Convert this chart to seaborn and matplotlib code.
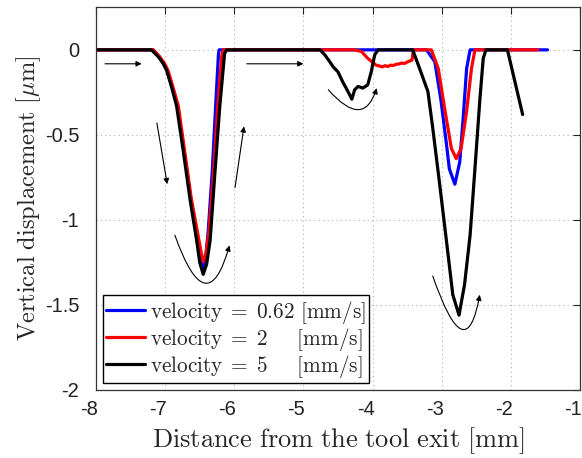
import matplotlib
matplotlib.use("Agg")
import matplotlib.pyplot as plt
import matplotlib.transforms as mtransforms
from matplotlib.patches import FancyArrowPatch
from matplotlib.path import Path
import seaborn as sns
import pandas as pd

# Measured vertical displacement profiles for three tool velocities
x_v062 = [-8.0, -7.18, -7.09, -7.02, -6.97, -6.90, -6.82, -6.73, -6.63, -6.535,
          -6.49, -6.455, -6.42, -6.38, -6.32, -6.27, -6.23, -6.22, -3.22, -3.10,
          -3.01, -2.93, -2.89, -2.81, -2.74, -2.69, -2.64, -2.59, -1.47]
y_v062 = [0.0, 0.0, -0.04, -0.08, -0.12, -0.215, -0.33, -0.59, -0.88, -1.12,
          -1.23, -1.29, -1.24, -1.08, -0.72, -0.33, -0.03, 0.0, 0.0, -0.07,
          -0.30, -0.56, -0.70, -0.79, -0.66, -0.40, -0.11, 0.0, 0.0]

x_v2 = [-8.0, -7.17, -7.08, -7.01, -6.96, -6.89, -6.81, -6.72, -6.62, -6.52,
        -6.48, -6.45, -6.41, -6.37, -6.30, -6.24, -6.18, -6.16, -4.26, -4.16,
        -4.07, -3.95, -3.90, -3.86, -3.82, -3.78, -3.74, -3.70, -3.66, -3.62,
        -3.58, -3.54, -3.50, -3.46, -3.43, -3.41, -3.15, -3.05, -2.96, -2.86,
        -2.79, -2.72, -2.64, -2.57, -2.52, -1.61]
y_v2 = [0.0, 0.0, -0.04, -0.08, -0.12, -0.215, -0.33, -0.59, -0.88, -1.10,
        -1.19, -1.245, -1.20, -1.08, -0.72, -0.33, -0.03, 0.0, 0.0, -0.01,
        -0.05, -0.09, -0.095, -0.10, -0.093, -0.098, -0.09, -0.092, -0.085, -0.083,
        -0.078, -0.08, -0.072, -0.065, -0.06, 0.0, 0.0, -0.11, -0.34, -0.58,
        -0.64, -0.58, -0.36, -0.11, 0.0, 0.0]

x_v5 = [-8.0, -7.2, -7.10, -7.03, -6.98, -6.91, -6.835, -6.74, -6.64, -6.545,
        -6.50, -6.45, -6.40, -6.35, -6.28, -6.21, -6.14, -6.11, -4.76, -4.69,
        -4.62, -4.57, -4.50, -4.43, -4.35, -4.30, -4.26, -4.21, -4.14, -4.07,
        -4.02, -3.97, -3.92, -3.42, -3.32, -3.20, -3.13, -3.03, -2.93, -2.84,
        -2.75, -2.67, -2.59, -2.52, -2.45, -2.40, -2.36, -2.05, -1.83]
y_v5 = [0.0, 0.0, -0.04, -0.08, -0.12, -0.215, -0.33, -0.59, -0.88, -1.12,
        -1.25, -1.32, -1.26, -1.12, -0.72, -0.33, -0.02, 0.0, 0.0, -0.03,
        -0.07, -0.10, -0.13, -0.19, -0.25, -0.29, -0.235, -0.215, -0.225, -0.205,
        -0.13, -0.03, 0.0, 0.0, -0.11, -0.245, -0.46, -0.79, -1.13, -1.44,
        -1.56, -1.38, -1.09, -0.70, -0.30, -0.05, 0.0, 0.0, -0.38]

labels = [r"$\mathrm{velocity}\;=\;0.62\ [\mathrm{mm/s}]$",
          r"$\mathrm{velocity}\;=\;2\hspace{1.28}\ [\mathrm{mm/s}]$",
          r"$\mathrm{velocity}\;=\;5\hspace{1.28}\ [\mathrm{mm/s}]$"]
colors = ["#0000ff", "#ff0000", "#000000"]

x_ticks = [-8, -7, -6, -5, -4, -3, -2, -1]
x_ticklabels = ["-8", "-7", "-6", "-5", "-4", "-3", "-2", "-1"]
y_ticks = [0, -0.5, -1, -1.5, -2]
y_ticklabels = ["0", "-0.5", "-1", "-1.5", "-2"]

frames = []
for lab, xs, ys in zip(labels, [x_v062, x_v2, x_v5], [y_v062, y_v2, y_v5]):
    frames.append(pd.DataFrame({"x": xs, "y": ys, "series": lab}))
df = pd.concat(frames, ignore_index=True)

sns.set_style("white")
plt.rcParams["font.family"] = ["Liberation Sans", "DejaVu Sans"]
plt.rcParams["mathtext.fontset"] = "cm"
plt.rcParams["axes.unicode_minus"] = False

fig = plt.figure(figsize=(5.82, 4.58), dpi=100)
ax = fig.add_axes([0.165, 0.1485, 0.8316, 0.8355])

sns.lineplot(data=df, x="x", y="y", hue="series", hue_order=labels,
             palette=colors, sort=False, estimator=None, units="series",
             linewidth=2.3, ax=ax, legend=False)

ax.set_xlim(-8, -1)
ax.set_ylim(-2, 0.25)
ax.set_xticks(x_ticks, x_ticklabels)
ax.set_yticks(y_ticks, y_ticklabels)
ax.tick_params(direction="in", length=5, width=0.8, labelsize=14.5,
               top=True, right=True, colors="#222222")
ax.tick_params(axis="x", pad=7)
ax.tick_params(axis="y", pad=12)
# x tick labels sit slightly left of their ticks
shift = mtransforms.ScaledTranslation(-7 / 100, 0, fig.dpi_scale_trans)
for lbl in ax.get_xticklabels():
    lbl.set_transform(lbl.get_transform() + shift)
ax.grid(True, linestyle=(0, (1, 3)), color="#b0b0b0", linewidth=0.8)
for s in ax.spines.values():
    s.set_color("#333333")
    s.set_linewidth(0.9)

ax.set_xlabel(r"$\mathrm{Distance\ from\ the\ tool\ exit\ [mm]}$", fontsize=19,
              labelpad=5)
ax.set_ylabel(r"$\mathrm{Vertical\ displacement\ [\mu m]}$", fontsize=17.6,
              labelpad=1)

# Flow-direction arrows
arrow_kw = dict(arrowstyle="-|>", color="black", lw=0.8, mutation_scale=8,
                shrinkA=0, shrinkB=0)
straight = [((-7.87, -0.082), (-7.34, -0.082)),
            ((-5.82, -0.082), (-5.0, -0.082)),
            ((-7.12, -0.43), (-6.97, -0.79)),
            ((-5.99, -0.81), (-5.86, -0.45))]
for start, end in straight:
    ax.annotate("", xy=end, xytext=start, arrowprops=arrow_kw)

# U-shaped arrows under each trough (quadratic curves: start, control, end)
curved = [[(-6.86, -1.09), (-6.395, -1.62), (-6.07, -1.15)],
          [(-4.64, -0.235), (-4.13, -0.47), (-3.94, -0.225)],
          [(-3.13, -1.33), (-2.65, -1.895), (-2.45, -1.44)]]
for pts in curved:
    path = Path(pts, [Path.MOVETO, Path.CURVE3, Path.CURVE3])
    ax.add_patch(FancyArrowPatch(path=path, arrowstyle="-|>", color="black",
                                 lw=0.8, mutation_scale=8))

handles = [plt.Line2D([], [], color=c, lw=2.3) for c in colors]
leg = ax.legend(handles, labels, loc="lower left", bbox_to_anchor=(0.014, 0.019),
                borderaxespad=0, fontsize=15.3, frameon=True, fancybox=False,
                edgecolor="black", framealpha=1, handlelength=1.85,
                handletextpad=0.2, labelspacing=0.0, borderpad=0.15)
leg.get_frame().set_linewidth(1.0)

fig.savefig("out.png", dpi=100)
